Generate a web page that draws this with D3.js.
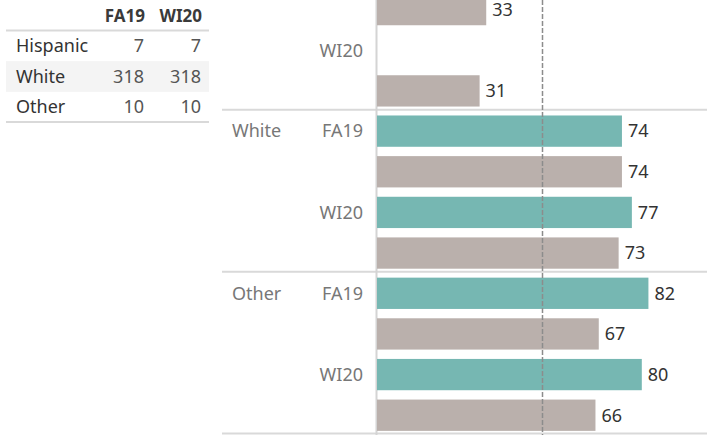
<!DOCTYPE html>
<html><head><meta charset="utf-8">
<script src="https://cdn.jsdelivr.net/npm/d3@7"></script>
<style>
body{margin:0;background:#fff;}
svg{display:block;font-family:"Noto Sans",sans-serif;}
</style>
</head><body>
<svg id="c" width="707" height="435"></svg>
<script>
// ---- data ----
const ethnicities = ["Hispanic", "White", "Other"];
const terms = ["FA19", "WI20"];
// teal measure per ethnicity x term (Hispanic FA19 is cut off above the view, Hispanic WI20 has no bar)
const tealValues = [null, null, 74, 77, 82, 80];
const grayValues = [33, 31, 74, 73, 67, 66];
const countFA19 = [7, 318, 10];
const countWI20 = [7, 318, 10];
const referenceValue = 50;

const tealColor = "#76b7b2", grayColor = "#bab0ac";

const svg = d3.select("#c");

// ---- table ----
const tbl = svg.append("g");
const tRow = d3.scaleBand().domain(ethnicities).range([30.5, 122.5]);
const tCol = d3.scaleOrdinal().domain(terms).range([145, 202]);
tbl.append("rect").attr("x", 6).attr("width", 203)
  .attr("y", tRow("White")).attr("height", tRow.bandwidth()).attr("fill", "#f4f4f4");
tbl.selectAll("line.h").data([30.5, 122]).join("line")
  .attr("x1", 6).attr("x2", 209).attr("y1", d => d).attr("y2", d => d)
  .attr("stroke", "#d9d9d9").attr("stroke-width", 2);
tbl.selectAll("text.hd").data(terms).join("text")
  .attr("x", d => tCol(d)).attr("y", 16).attr("dy", "0.35em")
  .attr("text-anchor", "end").attr("font-size", 17).attr("font-weight", "bold")
  .attr("fill", "#3a3a3a").text(d => d);
tbl.selectAll("text.nm").data(ethnicities).join("text")
  .attr("x", 16).attr("y", d => tRow(d) + tRow.bandwidth() / 2).attr("dy", "0.35em")
  .attr("font-size", 18).attr("fill", "#333").text(d => d);
ethnicities.forEach((e, i) => {
  [[terms[0], countFA19[i]], [terms[1], countWI20[i]]].forEach(([t, v]) => {
    tbl.append("text").attr("x", tCol(t) - 1).attr("y", tRow(e) + tRow.bandwidth() / 2)
      .attr("dy", "0.35em").attr("text-anchor", "end").attr("font-size", 18)
      .attr("fill", "#555").text(v);
  });
});

// ---- bar chart ----
const x = d3.scaleLinear().domain([0, 100]).range([377, 708]);
const gy = d3.scaleBand().domain(ethnicities).range([-52.5, 434]);
const iy = d3.scaleBand().domain(d3.range(4)).range([0, gy.bandwidth()])
  .paddingInner(0.23).paddingOuter(0.11).align(0.65);

const bars = [];
ethnicities.forEach((e, ei) => {
  terms.forEach((t, ti) => {
    const k = ei * 2 + ti;
    bars.push({e, t, slot: ti * 2, v: tealValues[k], c: tealColor});
    bars.push({e, t, slot: ti * 2 + 1, v: grayValues[k], c: grayColor});
  });
});
const yOf = d => gy(d.e) + iy(d.slot);
const visibleLabel = d => yOf(d) + iy.bandwidth() / 2 > 8;

// separators
svg.selectAll("line.sep").data(ethnicities.slice(1).map(e => gy(e)).concat([433.5])).join("line")
  .attr("x1", 222).attr("x2", 707).attr("y1", d => d).attr("y2", d => d)
  .attr("stroke", "#d9d9d9").attr("stroke-width", 2);

// axis line
svg.append("line").attr("x1", x(0) - 0.5).attr("x2", x(0) - 0.5).attr("y1", 0).attr("y2", 435)
  .attr("stroke", "#d4d4d4").attr("stroke-width", 2);

const valid = bars.filter(d => d.v != null);
svg.selectAll("rect.bar").data(valid).join("rect")
  .attr("x", x(0)).attr("y", yOf).attr("width", d => x(d.v) - x(0))
  .attr("height", iy.bandwidth()).attr("fill", d => d.c);

svg.selectAll("text.val").data(valid.filter(visibleLabel)).join("text")
  .attr("x", d => x(d.v) + 6).attr("y", d => Math.max(yOf(d) + iy.bandwidth() / 2, 10)).attr("dy", "0.35em")
  .attr("font-size", 18).attr("fill", "#333").text(d => d.v);

// reference line
svg.append("line").attr("x1", x(referenceValue)).attr("x2", x(referenceValue))
  .attr("y1", 0).attr("y2", 435).attr("stroke", "#8c8c8c").attr("stroke-width", 1.5)
  .attr("stroke-dasharray", "5,2");

// row labels (term)
const termLabels = [];
ethnicities.forEach(e => terms.forEach((t, ti) => termLabels.push({e, t, slot: ti * 2})));
svg.selectAll("text.term").data(termLabels.filter(visibleLabel)).join("text")
  .attr("x", 363).attr("y", d => yOf(d) + iy.bandwidth() / 2).attr("dy", "0.35em")
  .attr("text-anchor", "end").attr("font-size", 18).attr("fill", "#777").text(d => d.t);

// group labels
svg.selectAll("text.grp").data(ethnicities.filter(e => gy(e) + iy(0) > 0)).join("text")
  .attr("x", 232).attr("y", d => gy(d) + iy(0) + iy.bandwidth() / 2).attr("dy", "0.35em")
  .attr("font-size", 18).attr("fill", "#777").text(d => d);
</script>
</body></html>
